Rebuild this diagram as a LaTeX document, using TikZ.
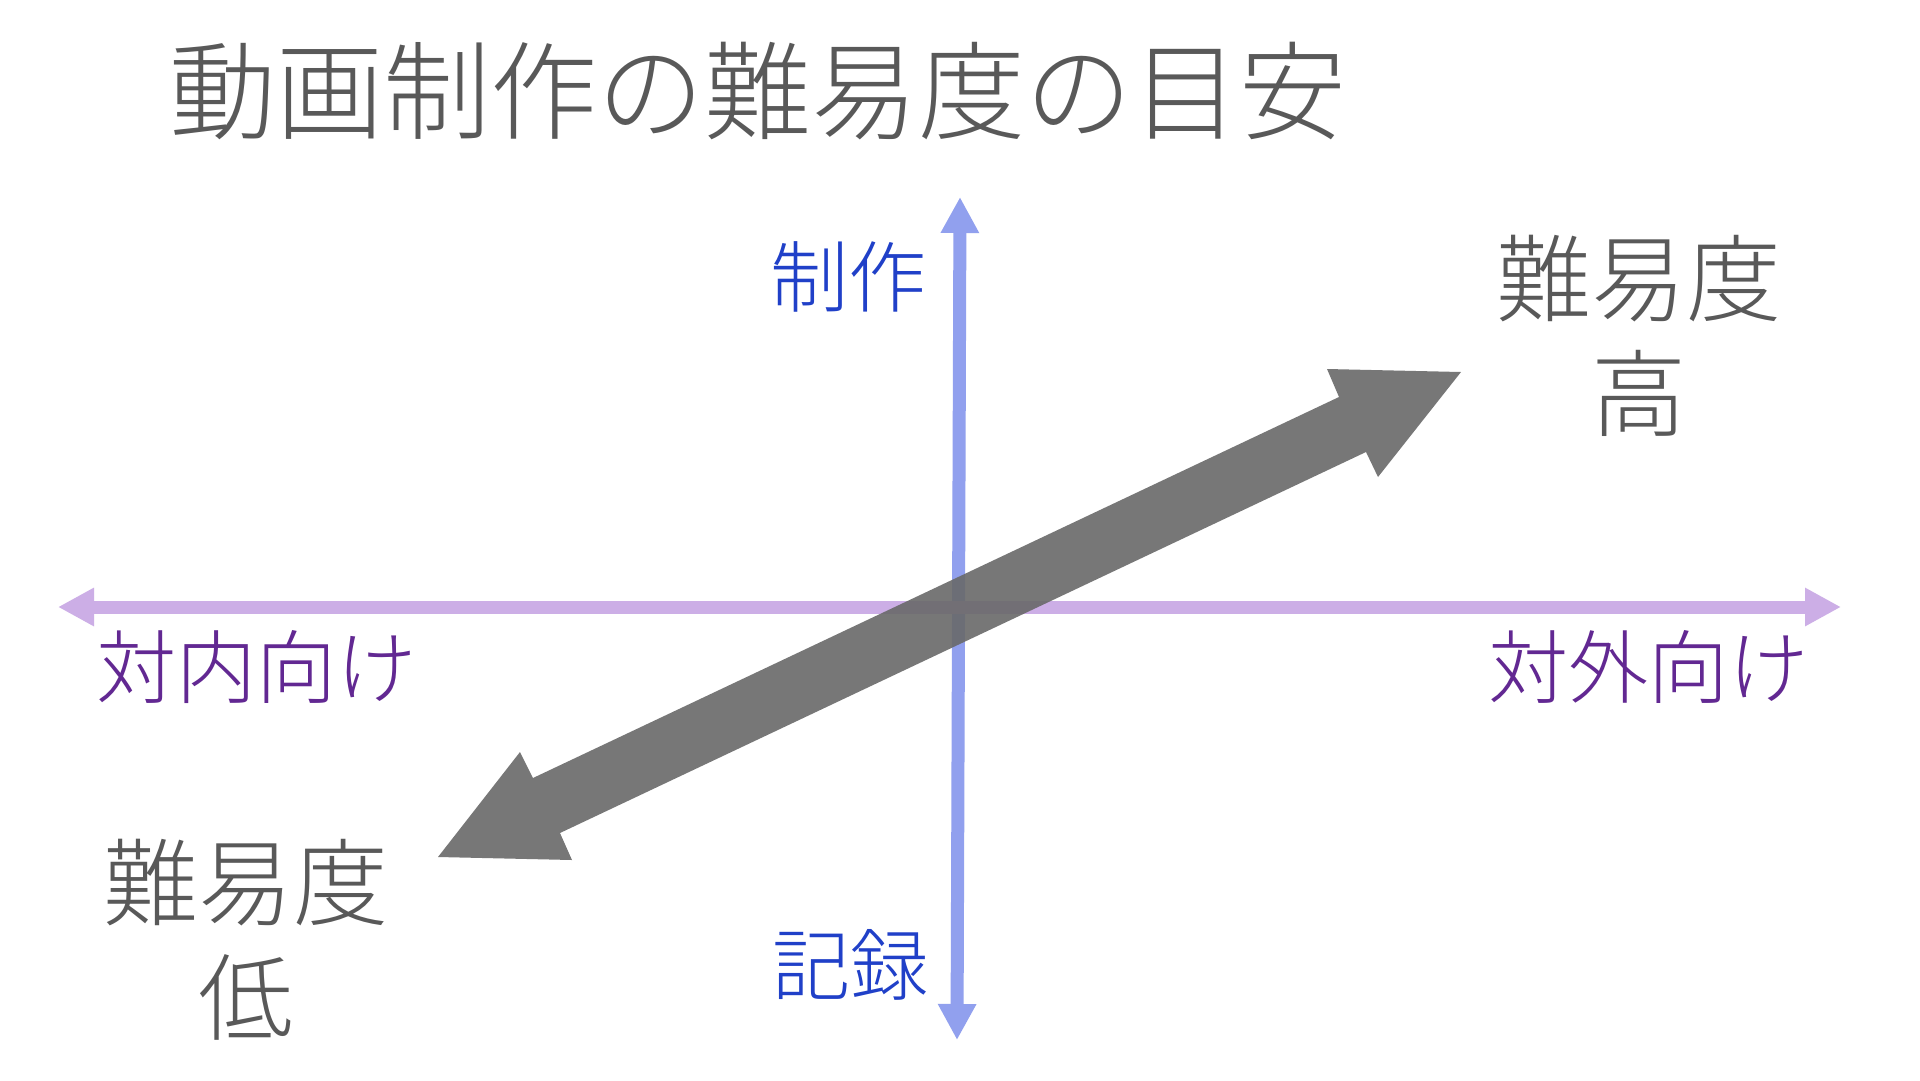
\documentclass[tikz,border=0pt]{standalone}
\usepackage{fontspec}
\setmainfont{Noto Sans CJK JP}[UprightFont=* Light]
\usetikzlibrary{arrows.meta}

\begin{document}
\begin{tikzpicture}[
  x=1pt, y=-1pt, % one unit = one pixel, y runs downward
  line join=round,
  axisline/.style={line width=13pt, {Triangle[length=36pt, width=36pt]}-{Triangle[length=36pt, width=36pt]}},
  txt/.style={inner sep=0pt, align=center}
]
  % ---- colours ----
  \definecolor{titlegray}{RGB}{89,89,89}
  \definecolor{axisblue}{RGB}{145,160,238}
  \definecolor{axispurple}{RGB}{204,174,230}
  \definecolor{labelblue}{RGB}{32,64,200}
  \definecolor{labelpurple}{RGB}{98,40,146}
  \definecolor{arrowgray}{RGB}{105,105,105}

  % ---- background ----
  \fill[white] (0,0) rectangle (1920,1080);
  \useasboundingbox (0,0) rectangle (1920,1080);

  % ---- axes ----
  \coordinate (top) at (960,197);
  \coordinate (bottom) at (957,1040);
  \coordinate (inner) at (58,607);
  \coordinate (outer) at (1841,607);
  \draw[axisline, axisblue] (bottom) -- (top);
  \draw[axisline, axispurple] (inner) -- (outer);

  % ---- difficulty arrow (low -> high) ----
  \fill[arrowgray, opacity=0.9]
    (1461,372) -- (1378,477) -- (1366,452) -- (560,833) -- (572,860)
    -- (438,857) -- (520,752) -- (533,778) -- (1339,397) -- (1327,369) -- cycle;

  % ---- title ----
  \node[txt, titlegray, font=\fontsize{107}{107}\selectfont] (title) at (758,91) {動画制作の難易度の目安};

  % ---- axis labels ----
  \node[txt, labelblue, font=\fontsize{78}{78}\selectfont] (make) at (848,277) {制作};
  \node[txt, labelblue, font=\fontsize{78}{78}\selectfont] (record) at (850,965) {記録};
  \node[txt, labelpurple, font=\fontsize{80}{80}\selectfont] (internal) at (256,667) {対内向け};
  \node[txt, labelpurple, font=\fontsize{80}{80}\selectfont] (external) at (1648,667) {対外向け};

  % ---- difficulty labels ----
  \node[txt, titlegray, font=\fontsize{95}{115}\selectfont] (high) at (1639,336) {難易度\\高};
  \node[txt, titlegray, font=\fontsize{95}{115}\selectfont] (low) at (246,940) {難易度\\低};

\end{tikzpicture}
\end{document}
